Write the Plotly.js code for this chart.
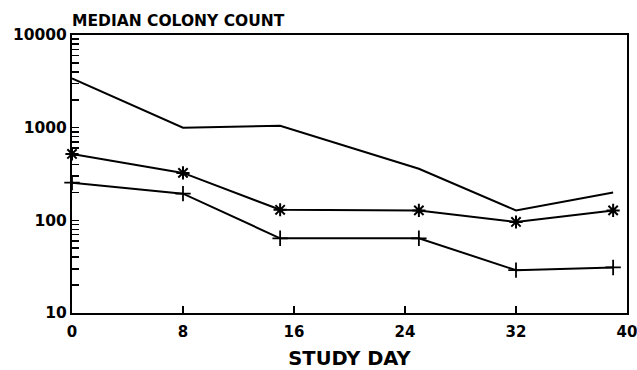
<!DOCTYPE html>
<html><head><meta charset="utf-8">
<script src="https://cdn.plot.ly/plotly-3.0.1.min.js"></script>
<style>html,body{margin:0;padding:0;background:#fff}#chart{width:637px;height:370px}</style>
</head><body><div id="chart"></div>
<script>
const studyDays = [0, 8, 15, 25, 32, 39];
const seriesTop = [3400, 1000, 1050, 360, 128, 200];
const seriesStar = [520, 325, 130, 128, 96, 128];
const seriesPlus = [255, 194, 64, 64, 29, 31];
const xTickVals = [0, 8, 16, 24, 32, 40];
const yMajorVals = [10, 100, 1000, 10000];
const yMajorLabels = ["10", "100", "1000", "10000"];

const yTickVals = [], yTickText = [];
for (let d = 10; d < 10000; d *= 10) {
  for (let k = 1; k <= 9; k++) {
    yTickVals.push(d * k);
    const idx = yMajorVals.indexOf(d * k);
    yTickText.push(idx >= 0 ? yMajorLabels[idx] : "");
  }
}
yTickVals.push(10000); yTickText.push("10000");

const FONT = "DejaVu Sans, Liberation Sans, Arial, sans-serif";
const base = {type: "scatter", x: studyDays, cliponaxis: false, line: {color: "#000", width: 2}, hoverinfo: "skip"};
const data = [
  Object.assign({}, base, {y: seriesTop, mode: "lines", name: "top"}),
  Object.assign({}, base, {y: seriesStar, mode: "lines+markers", name: "star",
    marker: {symbol: "asterisk-open", size: 11, color: "#000", line: {color: "#000", width: 2}}}),
  Object.assign({}, base, {y: seriesPlus, mode: "lines+markers", name: "plus",
    marker: {symbol: "cross-thin-open", size: 11, color: "#000", line: {color: "#000", width: 1.8}}})
];
const layout = {
  width: 637, height: 370,
  margin: {l: 72, r: 10, t: 35, b: 57},
  paper_bgcolor: "#fff", plot_bgcolor: "#fff",
  showlegend: false,
  font: {family: FONT, color: "#000", weight: "bold"},
  title: {text: "MEDIAN COLONY COUNT", x: 72/637, xanchor: "left", xref: "container",
    y: 1 - 20.5/370, yanchor: "middle", yref: "container",
    font: {family: FONT, size: 15.5, color: "#000", weight: "bold"}},
  xaxis: {
    range: [0, 40], tickmode: "array", tickvals: xTickVals,
    ticks: "inside", ticklen: 7, tickwidth: 2, tickcolor: "#000",
    showline: true, linecolor: "#000", linewidth: 2, mirror: true,
    showgrid: false, zeroline: false, ticklabelstandoff: 4, ticklabeloverflow: "allow",
    tickfont: {family: FONT, size: 15, color: "#000", weight: "bold"},
    title: {text: "STUDY DAY", font: {family: FONT, size: 19.5, color: "#000", weight: "bold"}, standoff: 20}
  },
  yaxis: {
    type: "log", range: [1, 4], tickmode: "array", tickvals: yTickVals, ticktext: yTickText,
    ticks: "inside", ticklen: 7, tickwidth: 1.5, tickcolor: "#000",
    showline: true, linecolor: "#000", linewidth: 2, mirror: true,
    showgrid: false, zeroline: false,
    tickfont: {family: FONT, size: 15.5, color: "#000", weight: "bold"}
  }
};
Plotly.newPlot("chart", data, layout, {staticPlot: true, displayModeBar: false});
</script></body></html>
